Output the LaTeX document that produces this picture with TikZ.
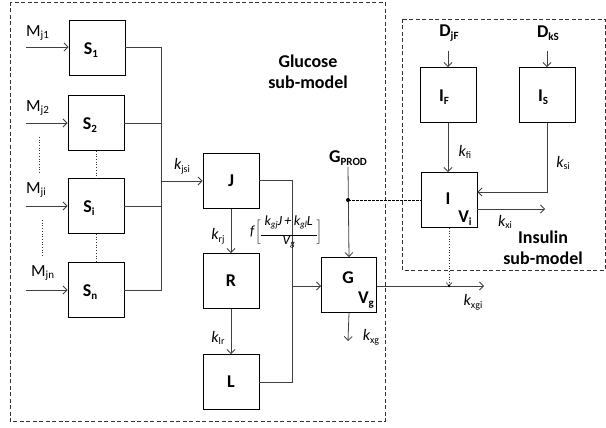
\documentclass[tikz,border=0pt]{standalone}
\usepackage{fontspec}
\setmainfont{Carlito}
\usetikzlibrary{arrows.meta}
\newcommand\sbb[1]{\raisebox{-0.35ex}{\fontsize{11}{12}\selectfont #1}}
\newcommand\sbk[1]{\raisebox{-0.35ex}{\fontsize{10}{12}\selectfont\upshape #1}}
\newcommand\sbf[1]{\raisebox{-0.35ex}{\fontsize{9}{10}\selectfont\itshape #1}}
\begin{document}
\begin{tikzpicture}[x=1pt,y=-1pt,
  box/.style={draw=black,line width=0.9pt,minimum width=56pt,minimum height=55pt,inner sep=0pt},
  conn/.style={draw=black!75,line width=0.8pt},
  arr/.style={conn,-{Straight Barb[length=4pt,width=8pt]}},
  subbox/.style={draw=black!80,line width=0.8pt,dash pattern=on 4pt off 2.5pt},
  lbl/.style={font=\fontsize{17}{19}\selectfont,inner sep=0pt},
  blbl/.style={font=\fontsize{18}{20}\selectfont\bfseries,inner sep=0pt},
  klbl/.style={font=\fontsize{16}{18}\selectfont\itshape,inner sep=0pt},
  dotl/.style={draw=black!80,line width=0.7pt,dotted}]
\useasboundingbox (0,0) rectangle (606,428);
% sub-model frames
\draw[subbox] (10,2) rectangle (385,421);
\draw[subbox] (402,19) rectangle (605,270);
\node[blbl,align=center] (glab) at (308,72) {Glucose\\[1pt] sub-model};
\node[blbl,align=center] (ilab) at (543,248) {Insulin\\[1pt] sub-model};
% S boxes
\node[box] (S1) at (97,48) {};
\node[box] (S2) at (96,123) {};
\node[box] (Si) at (96,206) {};
\node[box] (Sn) at (96,290) {};
\node[blbl] at (91,50) {S\sbb{1}};
\node[blbl] at (90,125) {S\sbb{2}};
\node[blbl] at (89,208) {S\sbb{i}};
\node[blbl] at (90,292) {S\sbb{n}};
% inputs
\coordinate (m1) at (26,47);
\coordinate (m2) at (26,123);
\coordinate (mi) at (26,206);
\coordinate (mn) at (26,290);
\draw[arr] (m1) -- (S1.west |- m1);
\draw[arr] (m2) -- (S2.west |- m2);
\draw[arr] (mi) -- (Si.west |- mi);
\draw[arr] (mn) -- (Sn.west |- mn);
\node[lbl,anchor=west] (M1) at (26,33) {M\sbb{j1}};
\node[lbl,anchor=west] (M2) at (26,108) {M\sbb{j2}};
\node[lbl,anchor=west] (Mi) at (26,190) {M\sbb{ji}};
\node[lbl,anchor=west] (Mn) at (31,273) {M\sbb{jn}};
\draw[dotl] (39,137) -- (39,173);
\draw[dotl] (42,220) -- (42,257);
\draw[dotl] (S2.south) -- (Si.north);
\draw[dotl] (Si.south) -- (Sn.north);
% bus
\coordinate (b1) at (161,47);
\coordinate (bn) at (161,290);
\coordinate (bk) at (161,181);
\draw[conn] (S1.east |- b1) -- (b1) -- (bn) -- (Sn.east |- bn);
\draw[conn] (S2.east) -- (S2.east -| b1);
\draw[conn] (Si.east) -- (Si.east -| b1);
% J R L
\node[box] (J) at (231,181) {};
\node[box] (R) at (231,281) {};
\node[box] (L) at (231,382) {};
\node[blbl] at (J) {J};
\node[blbl] at (R) {R};
\node[blbl] at (L) {L};
\draw[arr] (bk) -- (J.west |- bk);
\node[klbl] (kjsi) at (182,166) {k\sbk{jsi}};
\draw[arr] (J.south) -- (R.north);
\draw[arr] (R.south) -- (L.north);
\node[klbl] (krj) at (218,236) {k\sbk{rj}};
\node[klbl] (klr) at (218,338) {k\sbk{lr}};
% G
\node[box,minimum width=55pt] (G) at (349,285) {};
\node[blbl] at (348,278) {G};
\node[blbl] at (366,300) {V\sbb{g}};
\coordinate (jr) at (292,180);
\coordinate (lr) at (292,382);
\coordinate (gin) at (292,286);
\draw[conn] (J.east |- jr) -- (jr) -- (lr) -- (L.east |- lr);
\draw[arr] (gin) -- (G.west |- gin);
\node[inner sep=0pt] (f) at (286,232) {\fontsize{14}{16}\selectfont\itshape f\hspace{1pt}$\bigg[\vcenter{\hbox{\renewcommand\arraystretch{0.7}\begin{tabular}{@{}c@{}}k\sbf{gj}J\,+\,k\sbf{gl}L\\[-2pt]\rule{56pt}{0.6pt}\\[-3pt]V\sbf{g}\end{tabular}}}\bigg]$};
\node[blbl] (gprod) at (348,158) {G\sbb{PROD}};
\coordinate (gtop) at (348,167);
\coordinate (dot) at (348,200);
\draw[arr] (gtop) -- (G.north);
\fill[black] (dot) circle (2pt);
\coordinate (kxg) at (348,341);
\draw[arr] (G.south) -- (kxg);
\node[klbl] (kxgl) at (371,337) {k\sbk{xg}};
\coordinate (kxgi) at (484,286);
\draw[arr] (G.east |- kxgi) -- (kxgi);
\node[klbl] (kxgil) at (473,302) {k\sbk{xgi}};
% insulin
\node[box] (IF) at (448,95) {};
\node[box] (IS) at (547,95) {};
\node[box] (I) at (449,200) {};
\node[blbl] at (444,97) {I\sbb{F}};
\node[blbl] at (543,97) {I\sbb{S}};
\node[blbl] at (448,199) {I};
\node[blbl] at (465,218) {V\sbb{i}};
\node[blbl] (DjF) at (449,33) {D\sbb{jF}};
\node[blbl] (DkS) at (548,33) {D\sbb{kS}};
\draw[arr] (448,51) -- (IF.north);
\draw[arr] (547,51) -- (IS.north);
\draw[arr] (IF.south) -- (IF.south |- I.north);
\node[klbl] (kfi) at (465,152) {k\sbk{fi}};
\coordinate (isd) at (547,192);
\draw[arr] (IS.south) -- (isd) -- (I.east |- isd);
\node[klbl] (ksi) at (563,163) {k\sbk{si}};
\coordinate (kxi) at (545,209);
\draw[arr] (I.east |- kxi) -- (kxi);
\node[klbl] (kxil) at (505,222) {k\sbk{xi}};
\draw[draw=black,line width=0.7pt,dash pattern=on 2.5pt off 1.5pt] (dot) -- (I.west |- dot);
\draw[dotl,-{Straight Barb[length=3pt,width=6pt]}] (I.south) -- (I.south |- kxgi);
\fill[black] (I.south |- kxgi) circle (1.3pt);
\end{tikzpicture}
\end{document}
